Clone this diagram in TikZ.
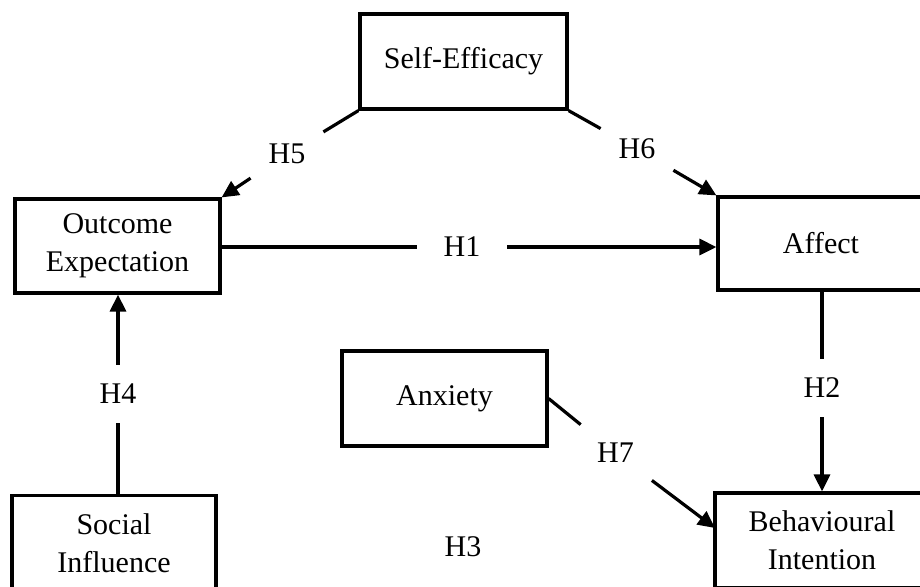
\documentclass[tikz,border=0pt]{standalone}
\usepackage{fontspec}
\setmainfont{Liberation Serif}
\usetikzlibrary{arrows.meta,calc}
\begin{document}
\begin{tikzpicture}[x=0.5pt,y=-0.5pt,
  box/.style={draw,line width=1.6pt,minimum width=102.5pt,minimum height=47.5pt,inner sep=0pt,align=center,font=\fontsize{15}{19}\selectfont},
  conn/.style={line width=1.6pt},
  arr/.style={conn,-{Triangle[length=8.5pt,width=8pt]}},
  lbl/.style={inner sep=0pt,font=\fontsize{15}{19}\selectfont},
  hlbl/.style={lbl,minimum width=45pt,minimum height=15pt},
  vlbl/.style={lbl,minimum width=20pt,minimum height=29pt},
  dlbl/.style={lbl,minimum width=36pt,minimum height=28pt}]
\useasboundingbox (0,0) rectangle (920,586);
\clip (0,0) rectangle (920,586);
% boxes
\node[box,minimum width=103.5pt] (se) at (463.5,61.5) {Self-Efficacy};
\node[box,minimum height=47pt] (oe) at (117.5,246) {Outcome\\Expectation};
\node[box,minimum width=103pt,minimum height=46.5pt] (af) at (821,243.5) {Affect};
\node[box] (ax) at (444.5,398.5) {Anxiety};
\node[box,minimum width=102pt] (si) at (114,543) {Social\\Influence};
\node[box,minimum width=107pt] (bi) at (822,540.5) {Behavioural\\Intention};
% labels
\node[hlbl] (h1) at (462,247) {H1};
\node[vlbl] (h2) at (822,388) {H2};
\node[lbl]  (h3) at (463,547) {H3};
\node[vlbl] (h4) at (118,394) {H4};
\node[dlbl] (h5) at (287,154) {H5};
\node[dlbl] (h6) at (637,149) {H6};
\node[dlbl] (h7) at (615.5,453) {H7};
\coordinate (bi7) at (715,528);
% connectors
\draw[conn] (oe.east |- h1) -- (h1.west);
\draw[arr] (h1.east) -- (af.west |- h1);
\draw[conn] (af.south -| h2) -- (h2.north);
\draw[arr] (h2.south) -- (bi.north -| h2);
\draw[conn] (si.north -| h4) -- (h4.south);
\draw[arr] (h4.north) -- (oe.south -| h4);
\draw[conn] (se.south west) -- (h5);
\draw[arr] (h5) -- (oe.north east);
\draw[conn] (se.south east) -- (h6);
\draw[arr] (h6) -- (af.north west);
\draw[conn] (ax.east) -- (h7);
\draw[arr] (h7) -- (bi7);
\end{tikzpicture}
\end{document}
